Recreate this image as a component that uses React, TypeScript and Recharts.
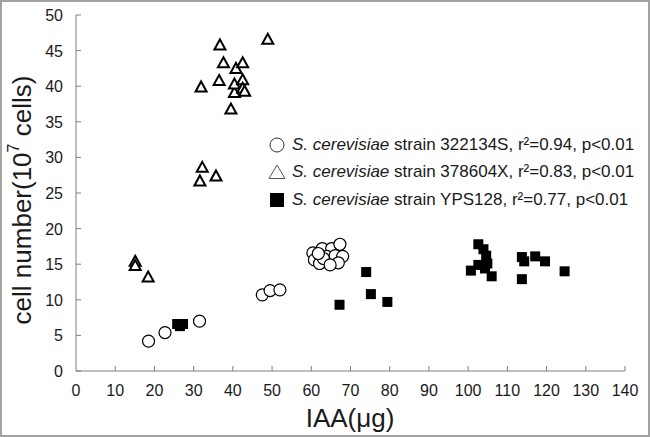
import React from 'react';
import { ScatterChart, Scatter, XAxis, YAxis } from 'recharts';

const FONT = '"Liberation Sans", Arial, sans-serif';

// axis ticks
const xTicks = [0, 10, 20, 30, 40, 50, 60, 70, 80, 90, 100, 110, 120, 130, 140];
const yTicks = [0, 5, 10, 15, 20, 25, 30, 35, 40, 45, 50];

// S. cerevisiae strain 322134S (open circles)
const iaa322134S = [18.5, 22.7, 31.5, 47.5, 49.5, 52.0, 60.4, 62.8, 65.2, 67.3, 60.8, 62.1, 64.0, 65.2, 66.1, 68.0, 66.9, 63.1, 64.8, 61.8];
const cells322134S = [4.2, 5.4, 7.0, 10.7, 11.3, 11.4, 16.6, 17.2, 17.2, 17.8, 15.6, 15.1, 16.1, 15.4, 16.2, 16.1, 15.2, 15.8, 14.9, 16.5];

// S. cerevisiae strain 378604X (open triangles)
const iaa378604X = [15.1, 15.1, 18.4, 31.6, 32.2, 35.7, 31.9, 36.5, 36.7, 37.6, 39.5, 40.4, 40.4, 40.8, 42.5, 42.5, 42.5, 43.0, 48.9];
const cells378604X = [15.4, 14.8, 13.2, 26.7, 28.6, 27.4, 39.9, 40.8, 45.8, 43.3, 36.8, 39.1, 40.3, 42.5, 43.3, 40.9, 39.7, 39.3, 46.6];

// S. cerevisiae strain YPS128 (filled squares)
const iaaYPS128 = [25.8, 26.5, 27.3, 67.2, 74.0, 75.2, 79.4, 100.7, 102.6, 103.9, 104.6, 104.9, 102.6, 104.3, 106.0, 113.7, 114.3, 117.1, 119.6, 113.7, 124.6];
const cellsYPS128 = [6.6, 6.3, 6.6, 9.3, 13.9, 10.8, 9.7, 14.1, 17.8, 17.1, 16.2, 15.1, 14.9, 14.4, 13.3, 16.0, 15.4, 16.1, 15.4, 12.9, 14.0];

const legendLabels = [
  { strain: '322134S', r2: '0.94', icon: 'circle' },
  { strain: '378604X', r2: '0.83', icon: 'triangle' },
  { strain: 'YPS128', r2: '0.77', icon: 'square' },
];

const zip = (xs: number[], ys: number[]) => xs.map((x, i) => ({ iaa: x, cells: ys[i] }));

const OpenCircle = (props: any) => (
  <circle cx={props.cx} cy={props.cy} r={6} fill="#fff" stroke="#000" strokeWidth={1.2} />
);

const OpenTriangle = (props: any) => {
  const { cx, cy } = props;
  return (
    <path
      d={`M${cx},${cy - 5.5}L${cx + 5.5},${cy + 4.5}L${cx - 5.5},${cy + 4.5}Z`}
      fill="#fff"
      stroke="#000"
      strokeWidth={2}
    />
  );
};

const FilledSquare = (props: any) => (
  <rect x={props.cx - 5} y={props.cy - 5} width={10} height={10} fill="#000" />
);

// ticks point inward, so draw line + label ourselves
const YTick = ({ x, y, payload }: any) => (
  <g>
    <line x1={x} x2={x + 5} y1={y} y2={y} stroke="#7f7f7f" />
    <text x={x - 13} y={y + 6} textAnchor="end" fontSize={16} fontFamily={FONT} fill="#1a1a1a">
      {payload.value}
    </text>
  </g>
);

const XTick = ({ x, y, payload }: any) => (
  <g>
    {payload.value !== 0 && <line x1={x} x2={x} y1={y} y2={y - 5} stroke="#7f7f7f" />}
    <text x={x} y={y + 25} textAnchor="middle" fontSize={16} fontFamily={FONT} fill="#1a1a1a">
      {payload.value}
    </text>
  </g>
);

const LegendIcon = ({ kind }: { kind: string }) => (
  <svg width={18} height={18} style={{ display: 'block' }}>
    {kind === 'circle' && <circle cx={9} cy={9} r={7} fill="#fff" stroke="#333" strokeWidth={1} />}
    {kind === 'triangle' && <path d="M9,2L17,15.5L1,15.5Z" fill="#fff" stroke="#555" strokeWidth={1} />}
    {kind === 'square' && <rect x={2} y={2} width={14} height={14} fill="#000" />}
  </svg>
);

const YTitle = () => (
  <text
    transform="rotate(-90, 22, 200)"
    x={22}
    y={200}
    textAnchor="middle"
    dominantBaseline="central"
    fontSize={26}
    fontFamily={FONT}
    fill="#1a1a1a"
  >
    cell number(10<tspan fontSize={16} dy={-9}>7</tspan>
    <tspan dy={9}> cells)</tspan>
  </text>
);

const XTitle = () => (
  <text x={350} y={427} textAnchor="middle" fontSize={26} fontFamily={FONT} fill="#1a1a1a">
    IAA(μg)
  </text>
);

export default function App() {
  return (
    <div
      style={{
        position: 'absolute',
        left: 0,
        top: 0,
        width: 650,
        height: 437,
        background: '#fff',
        border: '2px solid #a3a3a3',
        boxSizing: 'border-box',
      }}
    >
      <div style={{ position: 'absolute', left: -2, top: -2 }}>
        <ScatterChart width={650} height={437} margin={{ top: 15, right: 25, bottom: 0, left: 0 }}>
          <XAxis
            type="number"
            dataKey="iaa"
            domain={[0, 140]}
            ticks={xTicks}
            interval={0}
            height={66}
            tickSize={0}
            tickMargin={0}
            tickLine={false}
            axisLine={{ stroke: '#7f7f7f' }}
            tick={<XTick />}
            label={{ content: () => <XTitle /> }}
          />
          <YAxis
            type="number"
            dataKey="cells"
            domain={[0, 50]}
            ticks={yTicks}
            interval={0}
            width={76}
            tickSize={0}
            tickMargin={0}
            tickLine={false}
            axisLine={{ stroke: '#7f7f7f' }}
            tick={<YTick />}
            label={{ content: () => <YTitle /> }}
          />
          <Scatter name="322134S" data={zip(iaa322134S, cells322134S)} shape={<OpenCircle />} isAnimationActive={false} />
          <Scatter name="378604X" data={zip(iaa378604X, cells378604X)} shape={<OpenTriangle />} isAnimationActive={false} />
          <Scatter name="YPS128" data={zip(iaaYPS128, cellsYPS128)} shape={<FilledSquare />} isAnimationActive={false} />
        </ScatterChart>
      </div>
      {/* legend overlay */}
      <div style={{ position: 'absolute', left: 266, top: 129, fontFamily: FONT, fontSize: 17, color: '#1a1a1a' }}>
        {legendLabels.map((l) => (
          <div key={l.strain} style={{ display: 'flex', alignItems: 'center', height: 27.5 }}>
            <LegendIcon kind={l.icon} />
            <span style={{ marginLeft: 6, whiteSpace: 'nowrap' }}>
              <i>S. cerevisiae</i> strain {l.strain}, r²={l.r2}, p&lt;0.01
            </span>
          </div>
        ))}
      </div>
    </div>
  );
}
